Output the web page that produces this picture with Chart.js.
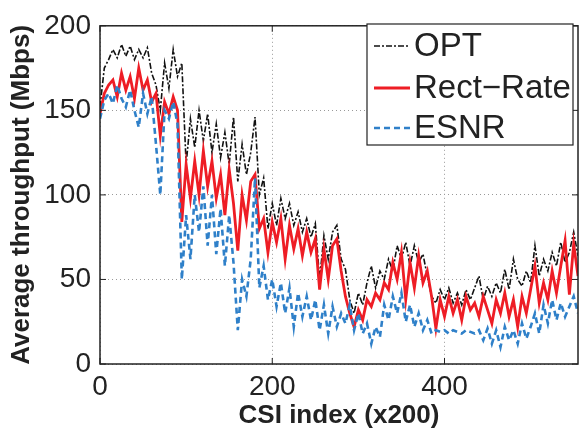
<!DOCTYPE html>
<html>
<head>
<meta charset="utf-8">
<script src="https://cdn.jsdelivr.net/npm/chart.js@4.4.1/dist/chart.umd.min.js"></script>
<style>
  html, body { margin: 0; padding: 0; background: #fff; }
  #wrap { width: 579px; height: 431px; }
</style>
</head>
<body>
<div id="wrap"><canvas id="chart" width="579" height="431"></canvas></div>
<script>
// CSI index (x200), sampled every 5
const csiIndex = [
  0, 5, 10, 15, 20, 25, 30, 35, 40, 45, 50, 55, 60, 65, 70, 75, 80, 85, 90, 95,
  100, 105, 110, 115, 120, 125, 130, 135, 140, 145, 150, 155, 160, 165, 170, 175, 180, 185, 190, 195,
  200, 205, 210, 215, 220, 225, 230, 235, 240, 245, 250, 255, 260, 265, 270, 275, 280, 285, 290, 295,
  300, 305, 310, 315, 320, 325, 330, 335, 340, 345, 350, 355, 360, 365, 370, 375, 380, 385, 390, 395,
  400, 405, 410, 415, 420, 425, 430, 435, 440, 445, 450, 455, 460, 465, 470, 475, 480, 485, 490, 495,
  500, 505, 510, 515, 520, 525, 530, 535, 540, 545, 550, 555
];

const opt = [
  152, 175, 180, 186, 181, 189, 182, 188, 180, 186, 181, 187, 172, 165, 150, 178, 163, 186, 170, 178,
  118, 145, 128, 150, 132, 148, 125, 142, 122, 137, 118, 146, 108, 130, 112, 125, 146, 100, 110, 80,
  95, 82, 98, 86, 95, 82, 90, 78, 86, 75, 83, 50, 76, 62, 78, 82, 62, 56, 38, 30,
  42, 35, 48, 58, 45, 55, 50, 62, 55, 70, 62, 72, 58, 70, 60, 65, 52, 40, 36, 44,
  38, 45, 36, 42, 35, 44, 38, 45, 52, 38, 46, 40, 48, 42, 56, 44, 62, 50, 46, 55,
  48, 70, 52, 62, 55, 66, 58, 72, 60, 66, 78, 64
];

const rectRate = [
  148, 160, 165, 168, 158, 172, 162, 170, 157, 175, 162, 168, 155, 160, 135, 155, 148, 158, 150, 84,
  118, 98, 120, 100, 126, 105, 120, 98, 112, 88, 115, 95, 67, 100, 85, 108, 112, 80, 86, 66,
  84, 72, 86, 62, 82, 68, 80, 64, 78, 66, 74, 44, 68, 50, 70, 74, 55, 40, 30, 22,
  32, 26, 38, 34, 42, 38, 48, 44, 60, 50, 66, 38, 60, 45, 64, 48, 55, 40, 21, 38,
  28, 40, 30, 38, 26, 40, 32, 36, 28, 40, 32, 24, 38, 30, 42, 28, 38, 22, 40, 30,
  44, 58, 36, 48, 38, 55, 42, 58, 73, 41, 71, 52
];

const esnr = [
  145, 156, 160, 154, 165, 157, 152, 162, 150, 140, 160, 148, 158, 130, 100, 150, 145, 155, 142, 50,
  88, 62, 100, 78, 105, 70, 100, 65, 92, 58, 88, 60, 20, 50, 40, 62, 110, 45, 58, 38,
  50, 34, 48, 30, 45, 22, 42, 28, 40, 26, 38, 20, 35, 18, 34, 22, 30, 24, 35, 20,
  30, 18, 24, 12, 22, 16, 35, 26, 40, 30, 42, 25, 35, 22, 30, 20, 26, 18, 20, 19,
  20, 18, 20, 19, 18, 20, 19, 18, 20, 14, 21, 12, 20, 10, 22, 14, 20, 12, 24, 15,
  22, 30, 18, 35, 24, 38, 26, 36, 28, 34, 40, 30
];

const xTicks = [0, 200, 400];
const yTicks = [0, 50, 100, 150, 200];

const FONT = '"Liberation Sans", Arial, Helvetica, sans-serif';

function pts(values) {
  return values.map((v, i) => ({ x: csiIndex[i], y: v }));
}

const series = [
  { label: 'OPT', data: pts(opt), borderColor: '#111111', borderWidth: 1.6, borderDash: [6, 2, 2, 2], order: 2 },
  { label: 'Rect\u2212Rate', data: pts(rectRate), borderColor: '#ee1d25', borderWidth: 2.8, borderDash: [], order: 1 },
  { label: 'ESNR', data: pts(esnr), borderColor: '#2f80c9', borderWidth: 2.6, borderDash: [6, 4], order: 0 }
];

// frame + legend box (MATLAB style)
const framePlugin = {
  id: 'frame',
  afterDraw(chart) {
    const { ctx, chartArea: a } = chart;
    ctx.save();
    ctx.strokeStyle = '#222';
    ctx.lineWidth = 1.5;
    ctx.setLineDash([]);
    ctx.strokeRect(a.left, a.top, a.right - a.left, a.bottom - a.top);

    // small inward tick marks
    const xs = chart.scales.x, ys = chart.scales.y;
    ctx.lineWidth = 1;
    xTicks.forEach(v => {
      const px = xs.getPixelForValue(v);
      ctx.beginPath();
      ctx.moveTo(px, a.bottom); ctx.lineTo(px, a.bottom - 6);
      ctx.moveTo(px, a.top); ctx.lineTo(px, a.top + 6);
      ctx.stroke();
    });
    yTicks.forEach(v => {
      const py = ys.getPixelForValue(v);
      ctx.beginPath();
      ctx.moveTo(a.left, py); ctx.lineTo(a.left + 6, py);
      ctx.moveTo(a.right, py); ctx.lineTo(a.right - 6, py);
      ctx.stroke();
    });

    // legend
    const bx = 367, by = 24, bw = 206, bh = 121;
    ctx.fillStyle = '#fff';
    ctx.fillRect(bx, by, bw, bh);
    ctx.lineWidth = 1.2;
    ctx.strokeStyle = '#222';
    ctx.strokeRect(bx, by, bw, bh);
    const rows = [46, 88, 128];
    ctx.font = '33px ' + FONT;
    ctx.textBaseline = 'middle';
    series.forEach((s, i) => {
      const y = rows[i];
      ctx.strokeStyle = s.borderColor;
      ctx.lineWidth = s.borderWidth;
      ctx.setLineDash(s.borderDash);
      ctx.beginPath();
      ctx.moveTo(374, y); ctx.lineTo(410, y);
      ctx.stroke();
      ctx.setLineDash([]);
      ctx.fillStyle = '#222';
      ctx.fillText(s.label, 414, y + 1);
    });
    ctx.restore();
  }
};

new Chart(document.getElementById('chart'), {
  type: 'line',
  data: {
    datasets: series.map(s => ({
      label: s.label,
      data: s.data,
      borderColor: s.borderColor,
      borderWidth: s.borderWidth,
      borderDash: s.borderDash,
      order: s.order,
      pointRadius: 0,
      tension: 0,
      fill: false
    }))
  },
  options: {
    responsive: false,
    animation: false,
    layout: { padding: { top: 17, right: 1, left: 0, bottom: 0 } },
    plugins: { legend: { display: false }, tooltip: { enabled: false } },
    scales: {
      x: {
        type: 'linear',
        min: 0,
        max: 555,
        afterBuildTicks: scale => { scale.ticks = xTicks.map(v => ({ value: v })); },
        afterFit: scale => { scale.height = 67; },
        grid: { color: '#999', lineWidth: 1, drawTicks: false },
        border: { display: false, dash: [1, 3] },
        ticks: { font: { family: FONT, size: 28 }, color: '#222', padding: 6, maxRotation: 0, autoSkip: false },
        title: { display: true, text: 'CSI index (x200)', font: { family: FONT, size: 26, weight: 'bold' }, color: '#222', padding: { top: -4, bottom: 0 } }
      },
      y: {
        min: 0,
        max: 200,
        afterBuildTicks: scale => { scale.ticks = yTicks.map(v => ({ value: v })); },
        afterFit: scale => { scale.width = 100; },
        grid: { color: '#999', lineWidth: 1, drawTicks: false },
        border: { display: false, dash: [1, 3] },
        ticks: { font: { family: FONT, size: 28 }, color: '#222', padding: 9 },
        title: { display: true, text: 'Average throughput (Mbps)', font: { family: FONT, size: 26, weight: 'bold' }, color: '#222', padding: { top: 6, bottom: 0 } }
      }
    }
  },
  plugins: [framePlugin]
});
</script>
</body>
</html>
